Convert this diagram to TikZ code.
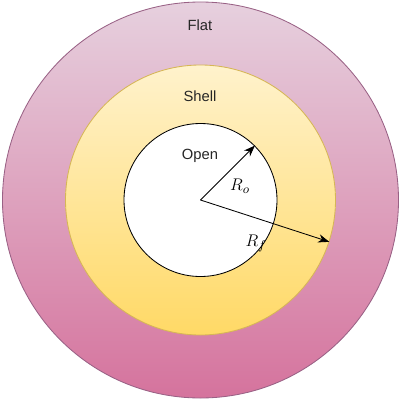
\documentclass[tikz,border=0pt]{standalone}
\usepackage{fontspec}
\setmainfont{Liberation Sans}
\usetikzlibrary{arrows.meta,positioning}
\definecolor{flattop}{HTML}{E6D0DE}
\definecolor{flatbot}{HTML}{D5739D}
\definecolor{flatline}{HTML}{996185}
\definecolor{shelltop}{HTML}{FFF2CC}
\definecolor{shellbot}{HTML}{FFD966}
\definecolor{shellline}{HTML}{D6B656}
\tikzset{
  ring/.style    = {circle, inner sep=0pt, line width=0.6pt},
  zonelabel/.style = {font=\fontsize{10.5}{12}\selectfont, text=black!85},
  radius label/.style = {font=\fontsize{12.5}{14}\selectfont},
  radius arrow/.style = {-{Stealth[length=2.8mm,width=2.1mm]}, line width=0.6pt},
}

\begin{document}
\begin{tikzpicture}[x=0.25mm,y=-0.25mm]
  \useasboundingbox (0,0) rectangle (401,401);
  % the three zones
  \node[ring, draw=flatline, top color=flattop, bottom color=flatbot,
        minimum size=99mm] (flat) at (200.5,200) {};
  \node[ring, draw=shellline, top color=shelltop, bottom color=shellbot,
        minimum size=67.5mm] (shell) at (200.5,200) {};
  \node[ring, draw=black, fill=white, minimum size=38.25mm] (open) at (200.5,200) {};
  \coordinate (centre) at (200.5,200);

  \node[zonelabel] (flatlbl) at (200,25) {Flat};
  \node[zonelabel] (shelllbl) at (200,96) {Shell};
  \node[zonelabel] (openlbl) at (200,156) {Open};

  % radii
  \draw[radius arrow] (centre) -- (open.45);
  \draw[radius arrow] (centre) -- (shell.-18.6);
  \node[radius label] (ro) at (240,186) {$R_o$};
  \node[radius label] (rf) at (256,243) {$R_f$};
\end{tikzpicture}
\end{document}
